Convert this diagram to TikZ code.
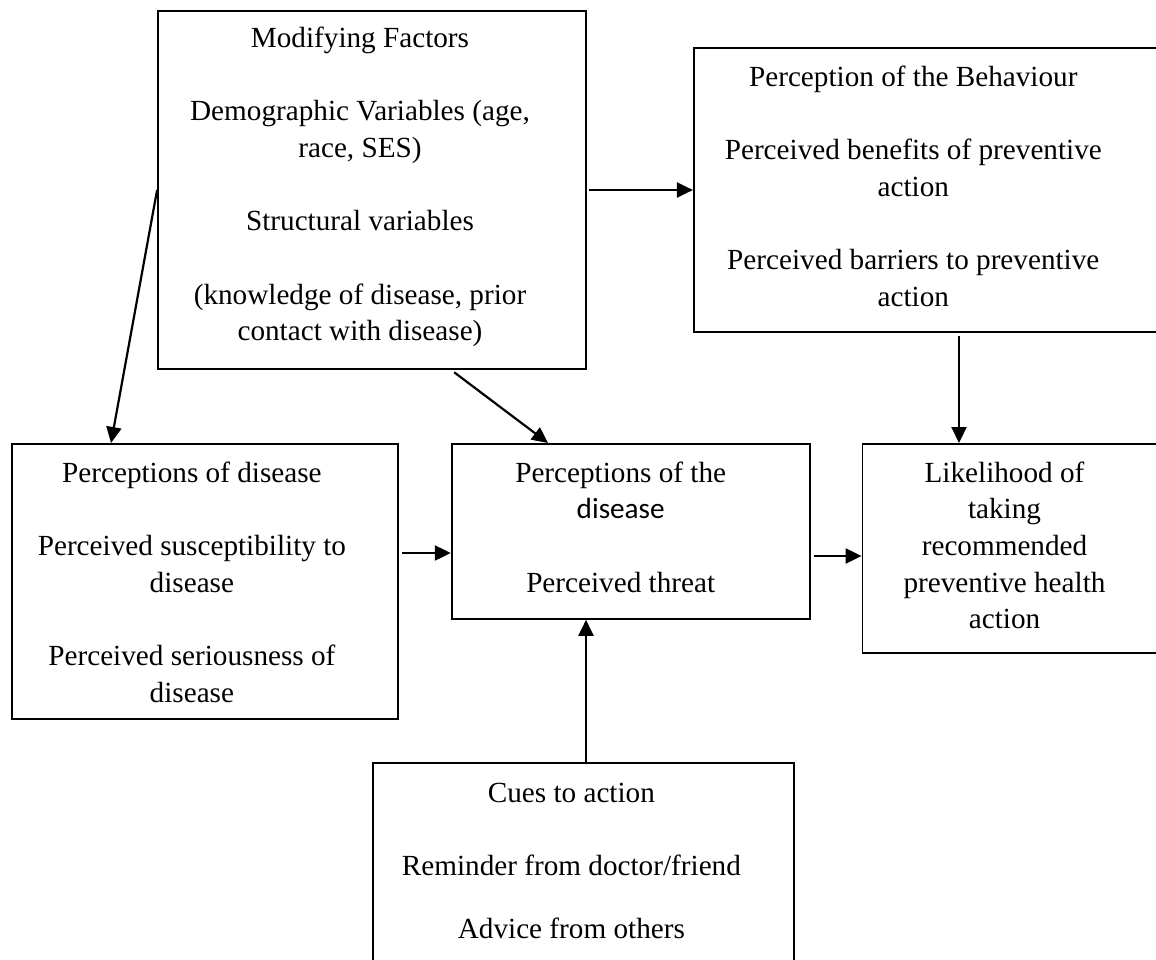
\documentclass[tikz,border=0pt]{standalone}
\usepackage{fontspec}
\setmainfont{Liberation Serif}
\newfontfamily\calibri{Carlito}
\usetikzlibrary{positioning,arrows.meta,calc}
\newcommand{\HealthBeliefFontSize}{29.2}
\newcommand{\HealthBeliefLineSkip}{36.7}

\begin{document}
\begin{tikzpicture}[x=1pt, y=-1pt,
		box/.style={draw, line width=1.8pt, inner sep=0pt},
		boxtext/.style={align=center, inner sep=0pt, font=\fontsize{\HealthBeliefFontSize}{\HealthBeliefLineSkip}\selectfont},
		link/.style={line width=2.2pt, -{Triangle[length=16pt, width=15pt]}},
	]
		\useasboundingbox (0,0) rectangle (1156,960);
		% boxes
		\node[box, minimum width=428pt, minimum height=358pt] (mf) at (372,190) {};
		\node[box, minimum width=463pt, minimum height=284pt, right=106pt of mf] (pb) {};
		\node[box, minimum width=386pt, minimum height=275pt, anchor=north west] (pd) at (11,443) {};
		\node[box, minimum width=358pt, minimum height=175pt, right=52pt of pd.north east, anchor=north west] (pt) {};
		\node[box, minimum width=296pt, minimum height=209pt, right=51pt of pt.north east, anchor=north west] (lk) {};
		\node[box, minimum width=421pt, minimum height=240pt, anchor=north west] (ca) at (372,762) {};
		% texts (base = baseline of the last line)
		\node[boxtext, below=330.6pt of mf.north, anchor=base, xshift=-12pt] (mf-text) {Modifying Factors\\[\HealthBeliefLineSkip pt]Demographic Variables (age,\\race, SES)\\[\HealthBeliefLineSkip pt]Structural variables\\[\HealthBeliefLineSkip pt](knowledge of disease, prior\\contact with disease)};
		\node[boxtext, below=259.2pt of pb.north, anchor=base, xshift=-12pt] (pb-text) {Perception of the Behaviour\\[\HealthBeliefLineSkip pt]Perceived benefits of preventive\\action\\[\HealthBeliefLineSkip pt]Perceived barriers to preventive\\action};
		\node[boxtext, below=259.2pt of pd.north, anchor=base, xshift=-13pt] (pd-text) {Perceptions of disease\\[\HealthBeliefLineSkip pt]Perceived susceptibility to\\disease\\[\HealthBeliefLineSkip pt]Perceived seriousness of\\disease};
		\node[boxtext, below=149.1pt of pt.north, anchor=base, xshift=-10pt] (pt-text) {Perceptions of the\\{\calibri disease}\\[\HealthBeliefLineSkip pt]Perceived threat};
		\node[boxtext, below=185.8pt of lk.north, anchor=base, xshift=-6pt] (lk-text) {Likelihood of\\taking\\recommended\\preventive health\\action};
		\node[boxtext, below=176.1pt of ca.north, anchor=base, xshift=-12pt] (ca-text) {Cues to action\\[\HealthBeliefLineSkip pt]Reminder from doctor/friend\\[26pt]Advice from others};
		% arrows
		\draw[link, shorten <=2pt] (mf.east) -- (pb.west);
		\draw[link] (mf.west) -- (pd.north -| 111,0);
		\draw[link, shorten <=4pt] (mf.south -| 451,0) -- (pt.north -| 548,0);
		\draw[link, shorten <=3pt] (pb.south -| 959,0) -- (lk.north -| 959,0);
		\draw[link, shorten <=3pt] (pd.east |- 0,553) -- (pt.west |- 0,553);
		\draw[link, shorten <=3pt] (pt.east |- 0,556) -- (lk.west |- 0,556);
		\draw[link] (ca.north -| 586,0) -- (pt.south -| 586,0);
	\end{tikzpicture}
\end{document}
